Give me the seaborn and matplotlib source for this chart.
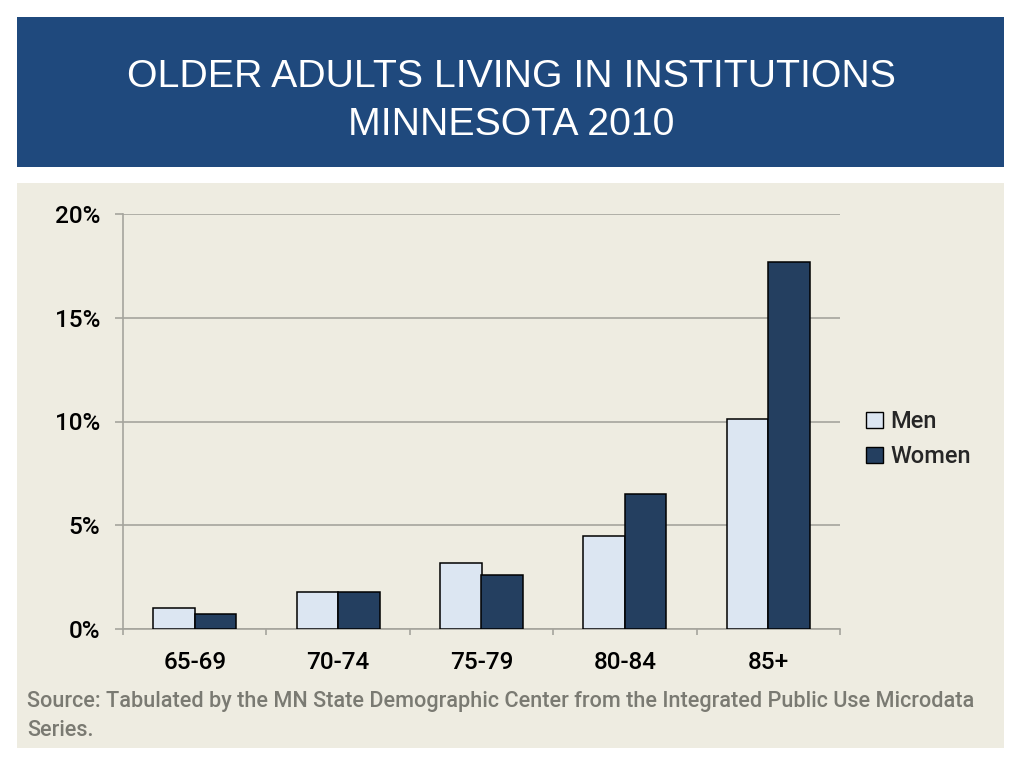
import pandas as pd
import matplotlib
matplotlib.use('Agg')
import matplotlib.pyplot as plt
from matplotlib.patches import Rectangle, Patch
import seaborn as sns

# data
age_groups = ['65-69', '70-74', '75-79', '80-84', '85+']
men = [1.0, 1.8, 3.2, 4.5, 10.1]
women = [0.7, 1.8, 2.6, 6.5, 17.7]
series = ['Men', 'Women']
y_ticks = [0, 5, 10, 15, 20]
y_labels = ['0%', '5%', '10%', '15%', '20%']

title_lines = ['OLDER ADULTS LIVING IN INSTITUTIONS', 'MINNESOTA 2010']
source_lines = ['Source: Tabulated by the MN State Demographic Center from the Integrated Public Use Microdata',
                'Series.']

BAND = '#1f497d'
PANEL = '#eeece1'
MEN_C = '#dce6f2'
WOMEN_C = '#243f60'
GRID = '#a5a59d'

sns.set_theme(style='white')
plt.rcParams['font.family'] = ['Roboto', 'Liberation Sans', 'DejaVu Sans']

df = pd.DataFrame({
    'age': age_groups * 2,
    'pct': men + women,
    'sex': ['Men'] * len(age_groups) + ['Women'] * len(age_groups),
})

fig = plt.figure(figsize=(10.24, 7.68), dpi=100)
fig.patch.set_facecolor('white')

# title band and chart panel
fig.add_artist(Rectangle((17 / 1024, 1 - 167 / 768), 987 / 1024, 150 / 768,
                         transform=fig.transFigure, facecolor=BAND, edgecolor='none', zorder=0))
fig.add_artist(Rectangle((17 / 1024, 1 - 748 / 768), 987 / 1024, 565 / 768,
                         transform=fig.transFigure, facecolor=PANEL, edgecolor='none', zorder=0))

title_font = ['Liberation Sans', 'DejaVu Sans']
fig.text(511 / 1024, 1 - 77 / 768, title_lines[0], color='white', fontsize=28.3,
         family=title_font, ha='center', va='center')
fig.text(511 / 1024, 1 - 125 / 768, title_lines[1], color='white', fontsize=28.3,
         family=title_font, ha='center', va='center')

ax = fig.add_axes([123 / 1024, 1 - 629 / 768, 717 / 1024, 415 / 768])
ax.set_facecolor('none')
sns.barplot(data=df, x='age', y='pct', hue='sex', order=age_groups, hue_order=series,
            palette=[MEN_C, WOMEN_C], width=0.578, gap=0, edgecolor='black',
            linewidth=1.1, saturation=1, legend=False, ax=ax, zorder=3)

ax.set_xlim(-0.5, len(age_groups) - 0.5)
ax.set_ylim(0, 20)
ax.set_yticks(y_ticks)
ax.set_yticklabels(y_labels, fontsize=17.5, color='black', fontweight='medium')
ax.yaxis.grid(True, color=GRID, linewidth=1.2, zorder=0)
ax.set_axisbelow(True)
ax.tick_params(axis='y', length=6, width=1.2, color=GRID, pad=10.5, left=True)
ax.set_xticks(range(len(age_groups)))
ax.set_xticklabels(age_groups, fontsize=17.5, color='black', fontweight='medium')
ax.set_xticks([i - 0.5 for i in range(len(age_groups) + 1)], minor=True)
ax.tick_params(axis='x', which='major', length=0, pad=16)
ax.tick_params(axis='x', which='minor', length=4.5, width=1.2, color=GRID, bottom=True)
ax.set_xlabel('')
ax.set_ylabel('')
for side in ['top', 'right']:
    ax.spines[side].set_visible(False)
for side in ['left', 'bottom']:
    ax.spines[side].set_color(GRID)
    ax.spines[side].set_linewidth(1.2)

handles = [Patch(facecolor=MEN_C, edgecolor='black', linewidth=1, label='Men'),
           Patch(facecolor=WOMEN_C, edgecolor='black', linewidth=1, label='Women')]
fig.legend(handles=handles, loc='upper left', bbox_to_anchor=(857 / 1024, 1 - 401 / 768),
           frameon=False, handlelength=0.7, handleheight=0.7,
           handletextpad=0.3, labelspacing=0.5, borderaxespad=0,
           prop={'size': 17, 'weight': 'medium'})

fig.text(27 / 1024, 1 - 702 / 768, source_lines[0], fontsize=15.6, color='#7a7a72',
         fontweight='medium', ha='left', va='center')
fig.text(27 / 1024, 1 - 730 / 768, source_lines[1], fontsize=15.6, color='#7a7a72',
         fontweight='medium', ha='left', va='center')

fig.savefig('out.png', dpi=100)
